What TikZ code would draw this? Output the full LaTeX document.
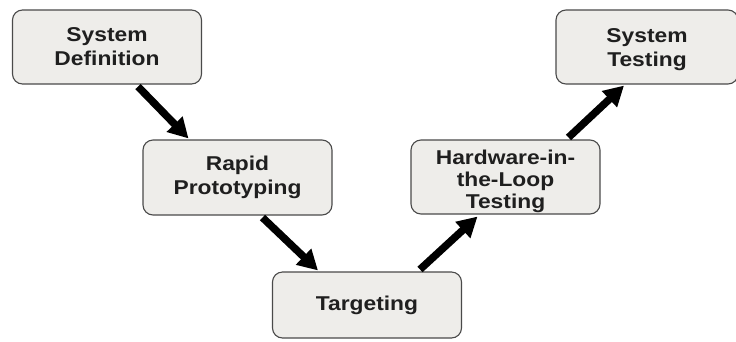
\documentclass[tikz,border=0pt]{standalone}
\usepackage{fontspec}
\setmainfont{Liberation Sans}
\usetikzlibrary{arrows.meta}
\definecolor{boxfill}{HTML}{EEEDEA}
\definecolor{boxline}{HTML}{4A4A4A}
\newfontfamily\boxfont[FakeStretch=1.14]{Liberation Sans}
\tikzset{
  stagebox/.style={draw=boxline, line width=1.1pt, fill=boxfill, rounded corners=10pt,
    minimum width=189pt, minimum height=74pt, inner sep=0pt, align=center,
    font=\boxfont\fontsize{20}{24}\selectfont\bfseries, text=black!88},
  boxtext/.style={inner sep=0pt, align=center, text=black!88,
    font=\boxfont\fontsize{20}{22}\selectfont\bfseries},
  flow/.style={line width=7.5pt, draw=black, -{Triangle[length=20pt,width=21pt]}}
}
\begin{document}
\begin{tikzpicture}[x=1pt,y=-1pt]
\useasboundingbox (0,0) rectangle (736,341);
\node[stagebox] (sd) at (107,47) {System\\Definition};
\node[stagebox, minimum height=75pt] (rp) at (237.5,177.5) {Rapid\\Prototyping};
\node[stagebox, minimum height=66pt] (tg) at (367,305) {Targeting};
\node[stagebox,
  label={[boxtext, yshift=-4pt]center:{Hardware-in-\\the-Loop\\Testing}}] (hil) at (505.5,177) {};
\node[stagebox, minimum width=182pt,
  label={[boxtext, font=\boxfont\fontsize{20}{24}\selectfont\bfseries, yshift=-3pt]center:{System\\Testing}}] (st) at (647,47) {};
\draw[flow] ([xshift=31pt,yshift=-2pt]sd.south) -- ([xshift=-49pt,yshift=1pt]rp.north);
\draw[flow] ([xshift=25pt,yshift=-2pt]rp.south) -- ([xshift=-49pt,yshift=1pt]tg.north);
\draw[flow] ([xshift=53pt,yshift=2pt]tg.north) -- ([xshift=-28pt,yshift=-2pt]hil.south);
\draw[flow] ([xshift=63pt,yshift=2pt]hil.north) -- ([xshift=-23pt,yshift=-1pt]st.south);
\end{tikzpicture}
\end{document}
